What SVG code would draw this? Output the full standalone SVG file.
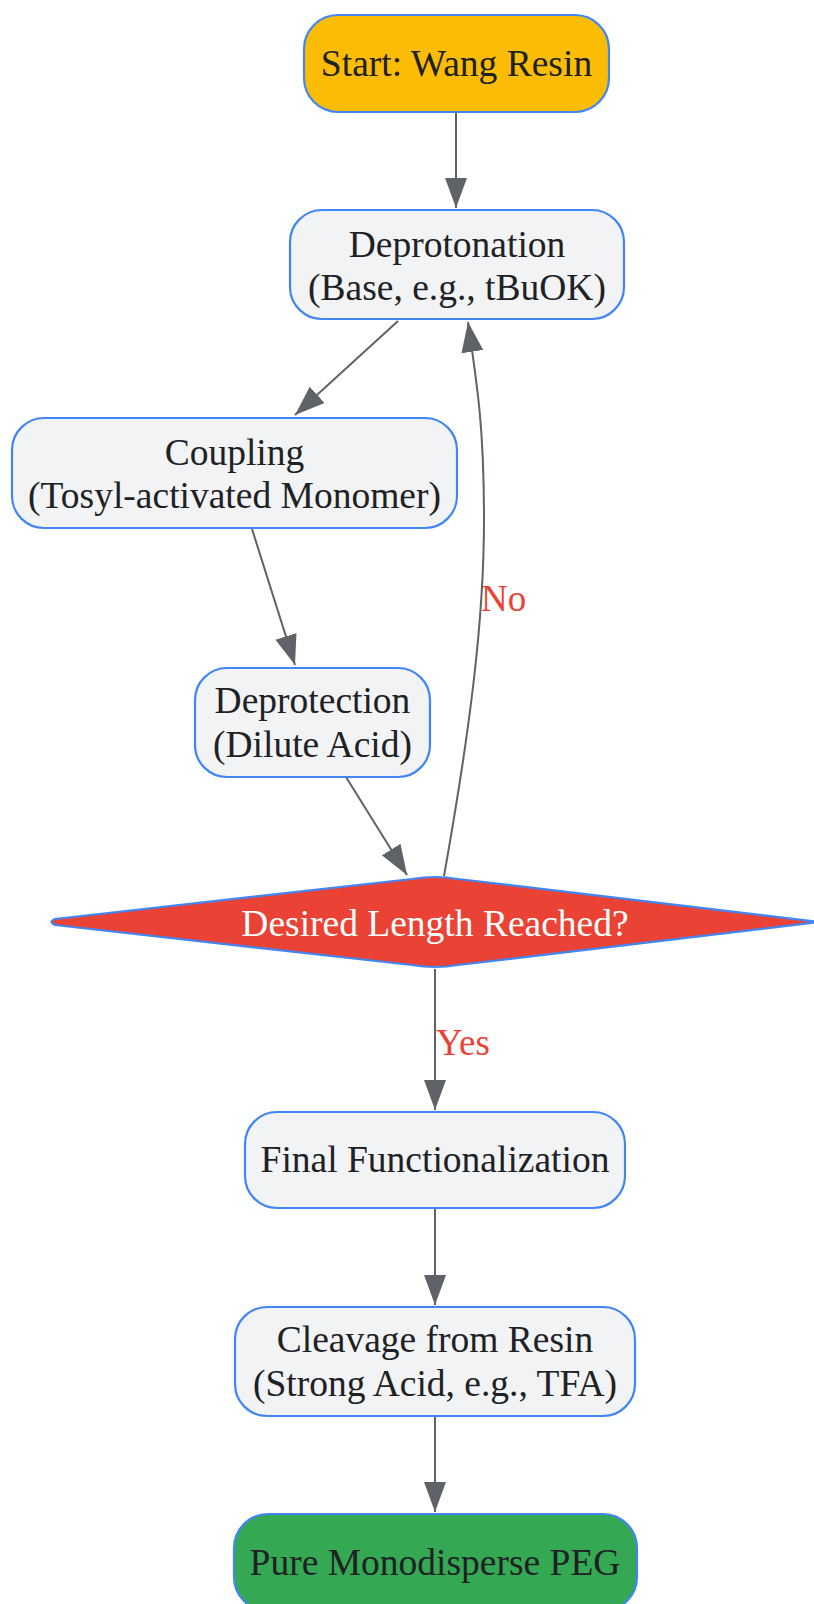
<svg xmlns="http://www.w3.org/2000/svg" width="814" height="1604" viewBox="0 0 814 1604">
<style>
.node{fill:#F1F3F4;stroke:#4285F4;stroke-width:2.2}
.t{font-family:"Liberation Serif","Times New Roman",serif;font-size:37.5px;fill:#202124;text-anchor:middle}
.w{fill:#FFFFFF}
.edge{fill:none;stroke:#5F6368;stroke-width:2}
.lbl{font-family:"Liberation Serif","Times New Roman",serif;font-size:37px;fill:#EA4335}
</style>
<defs>
<marker id="arr" markerUnits="userSpaceOnUse" markerWidth="32" markerHeight="24" refX="30" refY="11" orient="auto">
<path d="M0,0 L30,11 L0,22 z" fill="#5F6368"/>
</marker>
</defs>
<rect width="814" height="1604" fill="#FFFFFF"/>
<g id="edges">
<path class="edge" d="M456,112 L456,208" marker-end="url(#arr)"/>
<path class="edge" d="M398,321 L295,415" marker-end="url(#arr)"/>
<path class="edge" d="M252,529 L295,665" marker-end="url(#arr)"/>
<path class="edge" d="M346,777 L407,875" marker-end="url(#arr)"/>
<path class="edge" d="M444,876 C470,730 484,620 484,520 C484,430 478,390 468,322" marker-end="url(#arr)"/>
<path class="edge" d="M435,969 L435,1110" marker-end="url(#arr)"/>
<path class="edge" d="M435,1208 L435,1305" marker-end="url(#arr)"/>
<path class="edge" d="M435,1416 L435,1512" marker-end="url(#arr)"/>
<text class="lbl" x="481" y="611">No</text>
<text class="lbl" x="436" y="1055">Yes</text>
</g>
<g id="start">
<rect x="304" y="15" width="305" height="97" rx="34" fill="#FBBC05" stroke="#4285F4" stroke-width="2.2"/>
<text class="t" x="456.5" y="76">Start: Wang Resin</text>
</g>
<g id="deprotonation">
<rect class="node" x="290" y="210" width="334" height="109" rx="32"/>
<text class="t" x="457" y="257">Deprotonation</text>
<text class="t" x="457" y="300">(Base, e.g., tBuOK)</text>
</g>
<g id="coupling">
<rect class="node" x="12" y="418" width="445" height="110" rx="32"/>
<text class="t" x="234.5" y="465">Coupling</text>
<text class="t" x="234.5" y="508">(Tosyl-activated Monomer)</text>
</g>
<g id="deprotection">
<rect class="node" x="195" y="668" width="235" height="109" rx="32"/>
<text class="t" x="312.5" y="713">Deprotection</text>
<text class="t" x="312.5" y="757">(Dilute Acid)</text>
</g>
<g id="decision">
<path d="M55,919 L412,879 Q435,875 458,879 L819,922 L458,965 Q435,969 412,965 L55,925 Q48,922 55,919 Z" fill="#EA4335" stroke="#4285F4" stroke-width="2.2" stroke-linejoin="round"/>
<text class="t w" x="435" y="936">Desired Length Reached?</text>
</g>
<g id="final">
<rect class="node" x="245" y="1112" width="380" height="96" rx="32"/>
<text class="t" x="435" y="1172">Final Functionalization</text>
</g>
<g id="cleavage">
<rect class="node" x="235" y="1307" width="400" height="109" rx="32"/>
<text class="t" x="435" y="1352">Cleavage from Resin</text>
<text class="t" x="435" y="1396">(Strong Acid, e.g., TFA)</text>
</g>
<g id="pure">
<rect x="234" y="1514" width="403" height="97" rx="34" fill="#34A853" stroke="#4285F4" stroke-width="2.2"/>
<text class="t" x="435" y="1575">Pure Monodisperse PEG</text>
</g>
</svg>
